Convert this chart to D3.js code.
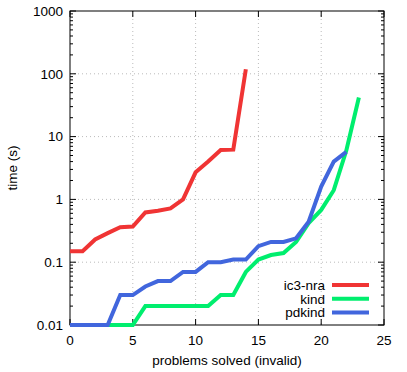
<!DOCTYPE html>
<html>
<head>
<meta charset="utf-8">
<script src="https://cdn.jsdelivr.net/npm/d3@7"></script>
<style>
body{margin:0;background:#fff;}
text{font-family:"Liberation Sans",Arial,Helvetica,sans-serif;font-size:13.5px;fill:#000;}
</style>
</head>
<body>
<svg width="407" height="372"></svg>
<script>
(()=>{

//data
let ic3nra = [0.15,0.15,0.23,0.29,0.36,0.37,0.62,0.66,0.72,1.0,2.7,4.0,6.1,6.2,118];
let kind = [0.01,0.01,0.01,0.01,0.01,0.01,0.02,0.02,0.02,0.02,0.02,0.02,0.03,0.03,0.07,0.11,0.13,0.14,0.21,0.42,0.68,1.4,6.0,42];
let pdkind = [0.01,0.01,0.01,0.01,0.03,0.03,0.041,0.05,0.05,0.07,0.07,0.1,0.1,0.11,0.11,0.18,0.21,0.21,0.24,0.44,1.6,4.0,5.7];
let seriesNames = ["ic3-nra","kind","pdkind"];
let seriesColors = ["#f03434","#00ee6e","#4166dd"];
let xTicks = [0,5,10,15,20,25];
let yTicks = [0.01,0.1,1,10,100,1000];
let yTickLabels = ["0.01","0.1","1","10","100","1000"];

let svg = d3.select("svg");
let left = 70, right = 384, top = 11, bottom = 325;

let x = d3.scaleLinear().domain([0,25]).range([left,right]);
let y = d3.scaleLog().domain([0.01,1000]).range([bottom,top]);

//grid (dotted, inner majors only)
svg.selectAll(".gx").data(xTicks.slice(1,-1)).enter().append("line")
	.attr("x1", d => x(d)).attr("x2", d => x(d))
	.attr("y1", top).attr("y2", bottom)
	.attr("stroke","#bbb").attr("stroke-dasharray","1,3");
svg.selectAll(".gy").data(yTicks.slice(1,-1)).enter().append("line")
	.attr("y1", d => y(d)).attr("y2", d => y(d))
	.attr("x1", left).attr("x2", right)
	.attr("stroke","#bbb").attr("stroke-dasharray","1,3");

//minor + major ticks, inward on all sides
let minor = [];
for(let e=-2;e<3;e++){
	for(let m=2;m<=9;m++) minor.push(m*Math.pow(10,e));
}
let tickG = svg.append("g").attr("stroke","#000");
minor.forEach(v=>{
	tickG.append("line").attr("x1",left).attr("x2",left+3).attr("y1",y(v)).attr("y2",y(v));
	tickG.append("line").attr("x1",right).attr("x2",right-3).attr("y1",y(v)).attr("y2",y(v));
});
yTicks.forEach(v=>{
	tickG.append("line").attr("x1",left).attr("x2",left+6).attr("y1",y(v)).attr("y2",y(v));
	tickG.append("line").attr("x1",right).attr("x2",right-6).attr("y1",y(v)).attr("y2",y(v));
});
xTicks.forEach(v=>{
	tickG.append("line").attr("x1",x(v)).attr("x2",x(v)).attr("y1",bottom).attr("y2",bottom-6);
	tickG.append("line").attr("x1",x(v)).attr("x2",x(v)).attr("y1",top).attr("y2",top+6);
});

//border
svg.append("rect")
	.attr("x",left).attr("y",top)
	.attr("width",right-left).attr("height",bottom-top)
	.attr("fill","none").attr("stroke","#000");

//tick labels
svg.selectAll(".xl").data(xTicks).enter().append("text")
	.attr("x", d => x(d)).attr("y", bottom+20)
	.attr("text-anchor","middle")
	.text(d => d);
svg.selectAll(".yl").data(yTicks).enter().append("text")
	.attr("x", left-7).attr("y", d => y(d))
	.attr("dy","0.35em")
	.attr("text-anchor","end")
	.text((d,i) => yTickLabels[i]);

//axis titles
svg.append("text")
	.attr("x",(left+right)/2).attr("y",365)
	.attr("text-anchor","middle")
	.text("problems solved (invalid)");
svg.append("text")
	.attr("transform","translate(17,168) rotate(-90)")
	.attr("text-anchor","middle")
	.text("time (s)");

//series
let line = d3.line().x((d,i) => x(i)).y(d => y(d));
[ic3nra,kind,pdkind].forEach((s,k)=>{
	svg.append("path")
		.attr("d", line(s))
		.attr("fill","none")
		.attr("stroke", seriesColors[k])
		.attr("stroke-width",4)
		.attr("stroke-linejoin","miter");
});

//legend
seriesNames.forEach((n,k)=>{
	let ly = 285 + k*13.8;
	svg.append("text")
		.attr("x",325).attr("y",ly).attr("dy","0.35em")
		.attr("text-anchor","end")
		.text(n);
	svg.append("line")
		.attr("x1",332).attr("x2",369)
		.attr("y1",ly).attr("y2",ly)
		.attr("stroke",seriesColors[k]).attr("stroke-width",4);
});

})();
</script>
</body>
</html>
